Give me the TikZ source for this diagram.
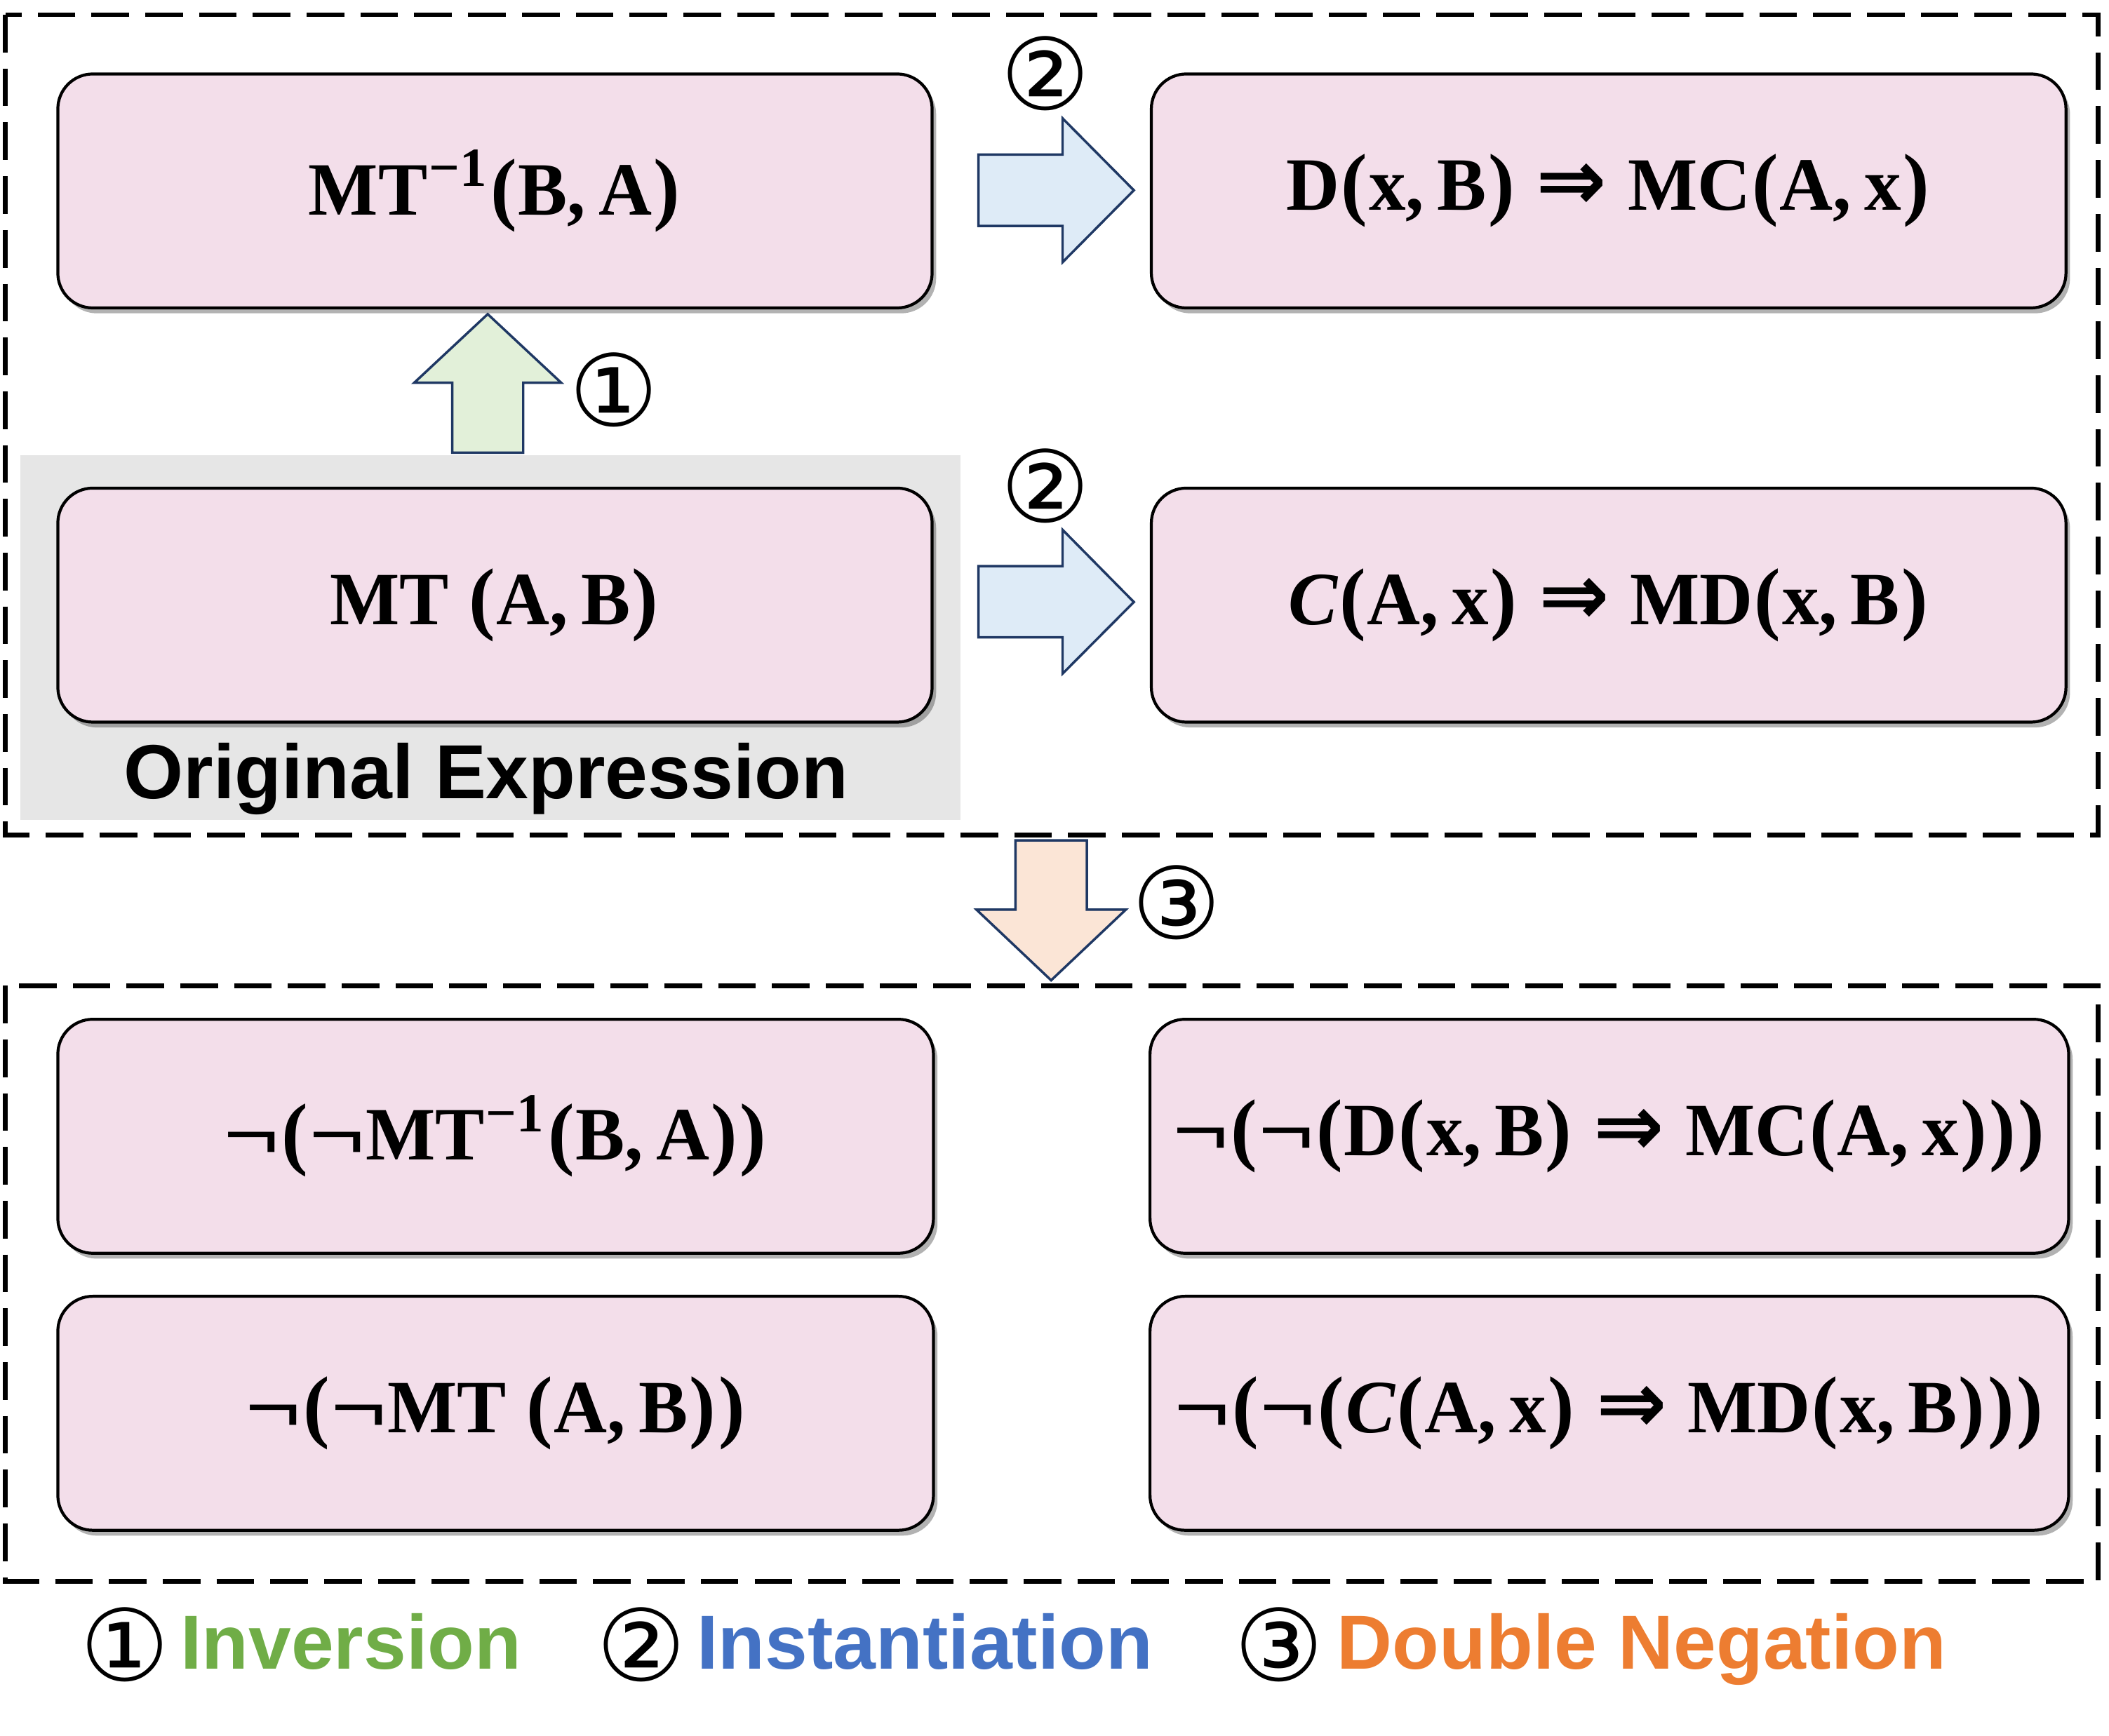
\RequirePackage{fix-cm}
\documentclass[tikz,border=0pt]{standalone}
\usepackage{amsmath}
\usepackage{graphicx}
\usepackage[no-math]{fontspec}
\newfontfamily\dejavu{DejaVu Sans}
\newfontfamily\legendfont{Liberation Sans}
\newfontfamily\exprfont{Liberation Serif}
\usetikzlibrary{shadows}
\definecolor{boxfill}{RGB}{243,222,234}
\definecolor{navy}{RGB}{31,56,100}
\definecolor{bluefill}{RGB}{222,235,247}
\definecolor{greenfill}{RGB}{226,240,217}
\definecolor{orangefill}{RGB}{251,229,214}
\definecolor{graybg}{RGB}{230,230,230}
\definecolor{leggreen}{RGB}{112,173,71}
\definecolor{legblue}{RGB}{68,114,196}
\definecolor{legorange}{RGB}{237,125,49}
\newcommand{\ex}[1]{\scalebox{0.98}[1]{#1}}
\newcommand{\sm}{\hspace{1pt}\raisebox{21pt}{\fontsize{41}{41}\selectfont −1}\hspace{2pt}}
\newcommand{\imp}{\hspace{0.28em}{\dejavu\bfseries\fontsize{64}{64}\selectfont ⇒}\hspace{0.28em}}
\newcommand{\sep}{,\hspace{0.18em}}
\newcommand{\lp}{\hspace{1pt}{\fontsize{60}{60}\selectfont (}\hspace{1pt}}
\newcommand{\rp}{\hspace{1pt}{\fontsize{60}{60}\selectfont )}\hspace{1pt}}
\newcommand{\nt}{\scalebox{1.35}[1]{¬}}
\begin{document}
\begin{tikzpicture}[x=1pt,y=-1pt,
  expr/.style={draw=black, line width=2.2pt, fill=boxfill, rounded corners=26pt,
    minimum height=174pt, inner sep=0pt,
    drop shadow={shadow xshift=3pt, shadow yshift=-4pt, opacity=0.3, fill=black},
    font=\exprfont\bfseries\fontsize{56}{60}\selectfont},
  frame/.style={draw=black, line width=3.5pt, dash pattern=on 28pt off 12pt},
  blockarrow/.style={draw=navy, line width=1.8pt, line join=miter},
  circnum/.style={inner sep=0pt, font=\dejavu\fontsize{74}{74}\selectfont},
  legtext/.style={inner sep=0pt, anchor=base west, font=\legendfont\bfseries\fontsize{57}{60}\selectfont},
]
\useasboundingbox (0,0) rectangle (1568,1291);
% frames
\draw[frame] (4,11) rectangle (1560,621);
\draw[frame] (4,733) rectangle (1560,1176);
% gray background of original expression
\fill[graybg] (15,338.6) rectangle (714,610);
\node[inner sep=0pt, anchor=base, font=\legendfont\bfseries\fontsize{57}{60}\selectfont] (orig) at (361.5,594) {Original Expression};
% block arrows
\draw[blockarrow, fill=greenfill] (336.2,336.6) -- (336.2,284.6) -- (308,284.6) -- (362.6,233.6) -- (417.2,284.6) -- (389,284.6) -- (389,336.6) -- cycle;
\draw[blockarrow, fill=bluefill] (727.5,115) -- (790,115) -- (790,88) -- (843,141.5) -- (790,195) -- (790,168) -- (727.5,168) -- cycle;
\draw[blockarrow, fill=bluefill] (727.5,421) -- (790,421) -- (790,394) -- (843,447.7) -- (790,501) -- (790,474) -- (727.5,474) -- cycle;
\draw[blockarrow, fill=orangefill] (755,625) -- (808,625) -- (808,676.5) -- (837,676.5) -- (781.5,729) -- (726,676.5) -- (755,676.5) -- cycle;
% expression boxes
\node[expr, minimum width=650pt] (b1) at (368,142) {\ex{MT\sm\lp B\sep A\rp}};
\node[expr, minimum width=680pt] (b2) at (1196,142) {\ex{D\lp x\sep B\rp\imp MC\lp A\sep x\rp}};
\node[expr, minimum width=650pt] (b3) at (368,450) {\ex{MT\hspace{0.25em}\lp A\sep B\rp}};
\node[expr, minimum width=680pt] (b4) at (1196,450) {\ex{\textit{C}\lp A\sep x\rp\imp MD\lp x\sep B\rp}};
\node[expr, minimum width=651pt] (b5) at (368.5,845) {\ex{\nt\lp\nt MT\sm\lp B\sep A\rp\rp}};
\node[expr, minimum width=683pt] (b6) at (1196.5,845) {\ex{\nt\lp\nt\lp D\lp x\sep B\rp\imp MC\lp A\sep x\rp\rp\rp}};
\node[expr, minimum width=651pt] (b7) at (368.5,1051) {\ex{\nt\lp\nt MT\hspace{0.25em}\lp A\sep B\rp\rp}};
\node[expr, minimum width=683pt] (b8) at (1196.5,1051) {\ex{\nt\lp\nt\lp\textit{C}\lp A\sep x\rp\imp MD\lp x\sep B\rp\rp\rp}};
% step numbers
\node[circnum] (n1) at (456.5,290) {①};
\node[circnum] (n2a) at (777,54.5) {②};
\node[circnum] (n2b) at (777,361.5) {②};
\node[circnum] (n3) at (875,671) {③};
% legend
\node[circnum] (l1) at (93,1223) {①};
\node[legtext, text=leggreen] (t1) at (134,1241) {Inversion};
\node[circnum] (l2) at (477,1223) {②};
\node[legtext, text=legblue] (t2) at (518,1241) {Instantiation};
\node[circnum] (l3) at (951,1223) {③};
\node[legtext, text=legorange] (t3) at (994,1241) {Double Negation};
\end{tikzpicture}
\end{document}
